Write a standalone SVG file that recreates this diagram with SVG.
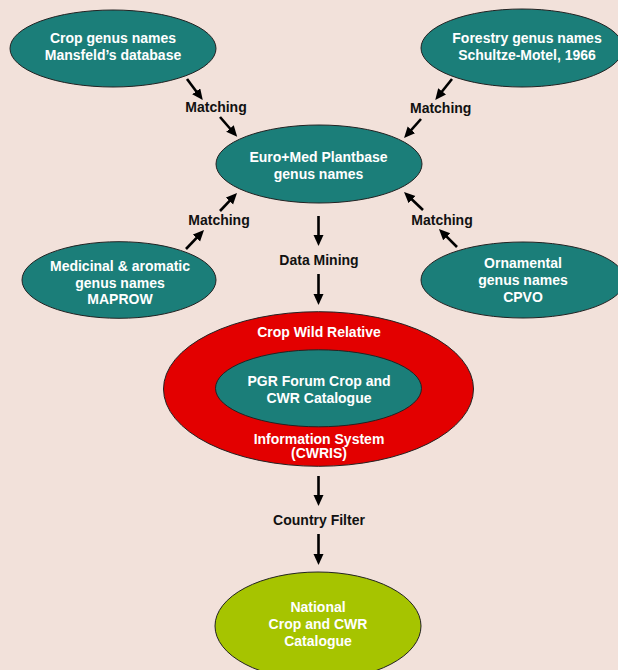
<svg xmlns="http://www.w3.org/2000/svg" width="618" height="670" viewBox="0 0 618 670">
<style>
.bg{fill:#F2E1DA}
.teal{fill:#1B7E79;stroke:#222;stroke-width:1}
.red{fill:#E30000;stroke:#222;stroke-width:1}
.green{fill:#A6C400;stroke:#222;stroke-width:1}
text{font-family:"Liberation Sans",Arial,Helvetica,sans-serif;font-weight:bold;font-size:14px;text-anchor:middle}
.w{fill:#FFFFFF}
.k{fill:#111111}
.arrow{stroke:#000;stroke-width:2.6;fill:none;marker-end:url(#ah)}
</style>
<defs>
<marker id="ah" markerUnits="userSpaceOnUse" markerWidth="12" markerHeight="11" refX="4" refY="5" orient="auto">
<path d="M0,0 L11,5 L0,10 z" fill="#000"/>
</marker>
</defs>
<rect class="bg" x="0" y="0" width="618" height="670"/>

<g id="crop-genus">
<ellipse class="teal" cx="113" cy="48.5" rx="103" ry="38.5"/>
<text class="w" x="113" y="43">Crop genus names</text>
<text class="w" x="113" y="59.5">Mansfeld’s database</text>
</g>

<g id="forestry-genus">
<ellipse class="teal" cx="522" cy="48" rx="101" ry="39"/>
<text class="w" x="527" y="43.3">Forestry genus names</text>
<text class="w" x="527" y="60">Schultze-Motel, 1966</text>
</g>

<g id="euromed">
<ellipse class="teal" cx="319" cy="164" rx="103" ry="39"/>
<text class="w" x="318.5" y="162.3">Euro+Med Plantbase</text>
<text class="w" x="318.5" y="179">genus names</text>
</g>

<g id="medicinal">
<ellipse class="teal" cx="119" cy="280" rx="97" ry="38.3"/>
<text class="w" x="120" y="271">Medicinal &amp; aromatic</text>
<text class="w" x="120" y="287.7">genus names</text>
<text class="w" x="120" y="304.3">MAPROW</text>
</g>

<g id="ornamental">
<ellipse class="teal" cx="523" cy="280" rx="102" ry="38"/>
<text class="w" x="523" y="268.3">Ornamental</text>
<text class="w" x="523" y="285">genus names</text>
<text class="w" x="523" y="301.7">CPVO</text>
</g>

<g id="cwris">
<ellipse class="red" cx="318.5" cy="389" rx="155" ry="77.3"/>
<text class="w" x="319" y="336.7">Crop Wild Relative</text>
<text class="w" x="319" y="444">Information System</text>
<text class="w" x="319" y="458">(CWRIS)</text>
</g>

<g id="pgr-catalogue">
<ellipse class="teal" cx="318.5" cy="388.3" rx="103" ry="38.5"/>
<text class="w" x="319" y="386">PGR Forum Crop and</text>
<text class="w" x="319" y="402.7">CWR Catalogue</text>
</g>

<g id="national">
<ellipse class="green" cx="318" cy="626" rx="103" ry="54"/>
<text class="w" x="318" y="611.7">National</text>
<text class="w" x="318" y="628.7">Crop and CWR</text>
<text class="w" x="318" y="645.7">Catalogue</text>
</g>

<g id="connectors">
<line class="arrow" x1="187" y1="79" x2="198.6" y2="94.5"/>
<line class="arrow" x1="220" y1="117" x2="232.6" y2="131.5"/>
<line class="arrow" x1="452" y1="79" x2="439.6" y2="94.5"/>
<line class="arrow" x1="421" y1="119" x2="408.7" y2="132.8"/>
<line class="arrow" x1="186" y1="249" x2="199.2" y2="235.1"/>
<line class="arrow" x1="220" y1="211" x2="232.2" y2="198.1"/>
<line class="arrow" x1="457" y1="247" x2="443.9" y2="233.9"/>
<line class="arrow" x1="423" y1="210" x2="409.1" y2="196.8"/>
<line class="arrow" x1="318.5" y1="216" x2="318.5" y2="239"/>
<line class="arrow" x1="318.5" y1="274" x2="318.5" y2="298"/>
<line class="arrow" x1="318.5" y1="476" x2="318.5" y2="499"/>
<line class="arrow" x1="318.5" y1="534" x2="318.5" y2="558"/>
<text class="k" x="216" y="112">Matching</text>
<text class="k" x="440.7" y="113">Matching</text>
<text class="k" x="219" y="225">Matching</text>
<text class="k" x="442" y="225">Matching</text>
<text class="k" x="319" y="265">Data Mining</text>
<text class="k" x="319" y="525">Country Filter</text>
</g>
</svg>
